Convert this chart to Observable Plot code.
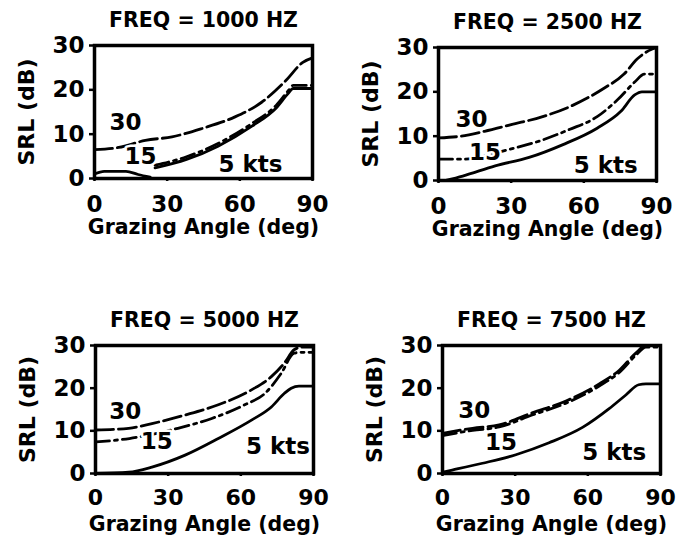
<!DOCTYPE html>
<html><head><meta charset="utf-8">
<script src="https://cdn.jsdelivr.net/npm/d3@7"></script>
<script src="https://cdn.jsdelivr.net/npm/@observablehq/plot@0.6"></script>
<style>
body{margin:0;background:#fff;overflow:hidden;}
#chart{position:relative;width:683px;height:542px;font-family:"DejaVu Sans",sans-serif;}
#chart svg{position:absolute;}
</style></head><body><div id="chart"></div>
<script>
// ---- data ----
const freqs = [1000, 2500, 5000, 7500];
const titles = ["FREQ = 1000 HZ", "FREQ = 2500 HZ", "FREQ = 5000 HZ", "FREQ = 7500 HZ"];
const speeds = ["30", "15", "5"];
const speedLabels = ["30", "15", "5 kts"];
const xTicks = [0, 30, 60, 90];
const yTicks = [0, 10, 20, 30];
const xLabel = "Grazing Angle (deg)";
const yLabel = "SRL (dB)";

// [grazing angle deg, SRL dB]  (null = break in the drawn curve)
const srl1000_30 = [[0,6.5],[10,7.0],[21,8.6],[32,9.4],[44.5,11.3],[58,13.9],[69,17.2],[79,22.1],[86,26.2],[90,27.2]];
const srl1000_15 = [[25,3.0],[38,4.9],[51,7.9],[65,12.4],[75,16.5],[80,19.8],[82,21.0],[90,21.0]];
const srl1000_5  = [[0,1.0],[4,1.6],[13,1.6],[18,0.9],[23,0.3],[24,null],[25,2.4],[38,4.3],[51,7.3],[65,11.8],[75,15.9],[80,19.2],[82,20.3],[90,20.3]];

const srl2500_30 = [[0,9.6],[9.4,10.0],[19,11.1],[30,12.6],[43,14.4],[55.6,17.0],[68,20.7],[76.6,24.0],[82,27.4],[88,29.6],[90,30.0]];
const srl2500_15 = [[0,4.8],[10,4.8],[29,7.0],[41.6,8.9],[54,11.5],[65.5,14.4],[73.9,18.2],[81,22.2],[85,24.0],[90,24.0]];
const srl2500_5  = [[3,0],[10,1.0],[23.4,3.3],[37.4,5.2],[51.4,8.1],[65.5,11.8],[75.3,15.6],[81,19.3],[84,20.0],[90,20.0]];

const srl5000_30 = [[0,10.2],[13.7,10.6],[23.3,11.7],[37,13.7],[50.7,16.1],[64.4,19.6],[72.6,22.7],[78,25.9],[82,29.0],[85,29.6],[90,29.6]];
const srl5000_15 = [[0,7.4],[14,8.2],[34,10.6],[48,12.9],[61.6,16.1],[70,18.8],[76.7,23.5],[82,28.2],[85,28.4],[90,28.4]];
const srl5000_5  = [[0,0],[13.7,0.3],[23.3,1.5],[37,4.3],[50.7,8.2],[64.4,12.5],[72.6,15.6],[78,18.8],[80.8,20.0],[84,20.5],[90,20.5]];

const srl7500_30 = [[0,9.4],[12.4,10.6],[23.4,11.4],[37,14.2],[51,17.0],[64.7,21.0],[73,24.2],[79.8,28.2],[84,30.0],[90,30.0]];
const srl7500_15 = [[0,8.9],[12.4,10.1],[23.4,10.9],[37,13.7],[51,16.5],[64.7,20.5],[73,23.7],[79.8,27.7],[84,29.6],[90,29.6]];
const srl7500_5  = [[0,0.3],[4,0.8],[16.5,2.4],[30.3,4.4],[44,7.2],[57.8,10.8],[68.8,15.2],[75.7,18.4],[81,20.8],[84,21.0],[90,21.0]];

// curve label anchor points [angle, dB] for "30", "15", "5 kts"
const lab1000 = [[12.8,12.7],[19,4.9],[64.4,3.1]];
const lab2500 = [[13.6,13.7],[19.2,6.3],[69,3.3]];
const lab5000 = [[12.3,14.5],[25.3,7.4],[75.3,6.2]];
const lab7500 = [[13.1,14.8],[24.1,7.2],[70.9,4.8]];

const series = [
  [srl1000_30, srl1000_15, srl1000_5],
  [srl2500_30, srl2500_15, srl2500_5],
  [srl5000_30, srl5000_15, srl5000_5],
  [srl7500_30, srl7500_15, srl7500_5]
];
const labels = [lab1000, lab2500, lab5000, lab7500];

// ---- layout ----
const layout = [
  {left: 0,   top: 0,   mb: 72, tp: 14, fs: 23, ly: 49},
  {left: 344, top: 2,   mb: 72, tp: 14, fs: 23, ly: 49},
  {left: 1,   top: 300, mb: 77, tp: 13, fs: 22, ly: 51},
  {left: 348, top: 300, mb: 77, tp: 13, fs: 22, ly: 51}
];
const dashes = {"30": "18,5", "15": "14,5,3,5", "5": null};
const FONT = "DejaVu Sans";

function panel(i) {
  const rows = [];
  series[i].forEach((pts, s) => pts.forEach(([a, v]) => rows.push({angle: a, srl: v, speed: speeds[s]})));
  const labRows = labels[i].map(([a, v], s) => ({angle: a, srl: v, text: speedLabels[s]}));
  const lines = speeds.map(sp => Plot.line(rows.filter(d => d.speed === sp), {
    x: "angle", y: "srl", stroke: "black", strokeWidth: 2.8,
    strokeDasharray: dashes[sp], curve: "monotone-x"
  }));
  const L = layout[i];
  return Plot.plot({
    width: 335, height: 250,
    marginLeft: 94, marginRight: 23, marginTop: 45, marginBottom: L.mb,
    x: {domain: [0, 90]},
    y: {domain: [0, 30]},
    style: {fontFamily: FONT, fontWeight: "bold", color: "black", background: "white", overflow: "visible"},
    marks: [
      Plot.axisY(yTicks, {anchor: "left", tickSize: 5, tickPadding: 5, fontSize: 23, fontWeight: "bold", strokeWidth: 2.5, label: null}),
      Plot.axisX(xTicks, {anchor: "bottom", tickSize: 3, tickPadding: L.tp, fontSize: L.fs, fontWeight: "bold", strokeWidth: 2.5, label: null}),
      ...lines,
      Plot.text(labRows, {x: "angle", y: "srl", text: "text", fontSize: 23, fontWeight: "bold",
        fill: "black", stroke: "white", strokeWidth: 5}),
      Plot.frame({stroke: "black", strokeWidth: 3.5}),
      Plot.text([titles[i]], {frameAnchor: "top", lineAnchor: "middle", textAnchor: "middle", dy: -25, fontSize: 20.5, fontWeight: "bold"}),
      Plot.text([yLabel], {frameAnchor: "left", lineAnchor: "middle", textAnchor: "middle", dx: -68, rotate: -90, fontSize: 22, fontWeight: "bold"}),
      Plot.text([xLabel], {frameAnchor: "bottom", lineAnchor: "middle", textAnchor: "middle", dy: L.ly, fontSize: 20.5, fontWeight: "bold"})
    ]
  });
}

const chart = document.getElementById("chart");
freqs.forEach((f, i) => {
  const svg = panel(i);
  svg.style.left = layout[i].left + "px";
  svg.style.top = layout[i].top + "px";
  chart.appendChild(svg);
});
</script>
</body></html>
